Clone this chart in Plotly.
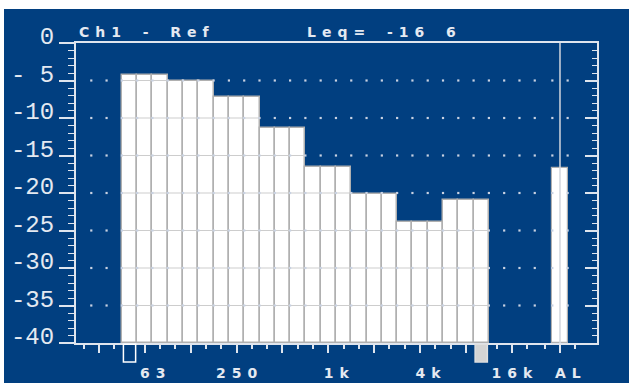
import plotly.graph_objects as go

# ---------------- data ----------------
band_names = ["25", "31.5", "40", "50", "63", "80", "100", "125", "160", "200",
              "250", "315", "400", "500", "630", "800", "1k", "1.25k", "1.6k", "2k",
              "2.5k", "3.15k", "4k", "5k", "6.3k", "8k", "10k", "12.5k", "16k", "20k"]
bar_bands = ["50", "63", "80", "100", "125", "160", "200", "250", "315", "400",
             "500", "630", "800", "1k", "1.25k", "1.6k", "2k", "2.5k", "3.15k", "4k",
             "5k", "6.3k", "8k", "10k"]
bar_levels = [-4.2, -4.2, -4.2, -5.1, -5.1, -5.1, -7.2, -7.2, -7.2, -11.3,
              -11.3, -11.3, -16.5, -16.5, -16.5, -20.1, -20.1, -20.1, -23.8, -23.8,
              -23.8, -20.9, -20.9, -20.9]
al_level = -16.6
octave_bands = ["31.5", "63", "125", "250", "500", "1k", "2k", "4k", "8k", "16k"]
x_tick_bands = ["63", "250", "1k", "4k", "16k"]
x_tick_text = ["63", "250", "1k", "4k", "16k"]
al_text = "AL"
y_tick_vals = [0, -5, -10, -15, -20, -25, -30, -35, -40]
y_tick_text = ["0", "- 5", "-10", "-15", "-20", "-25", "-30", "-35", "-40"]
title_left = "Ch1 - Ref"
title_right = "Leq= -16 6"

# ---------------- styling ----------------
BLUE = "#013f80"
FG = "#e4e9f1"
LINE = "#dfe5ee"
SEP = "#b0b0b0"
FLOOR, TOP = -40, 0
AL_POS = 31.15
W, H = 633, 383
ML, MR, MT, MB = 76, 36, 43, 40
PW, PH = W - ML - MR, H - MT - MB
SMALL_FONT = dict(family="DejaVu Sans", size=14, color=FG, weight="bold")


def spaced(s, sep="\u2004\u200a"):
    # letter-spaced text; spaces become figure spaces
    return sep.join("\u2007" if c == " " else c for c in s)


def mono(s):
    return s.replace(" ", "\u00a0")


idx = {b: i for i, b in enumerate(band_names)}
bar_x = [idx[b] for b in bar_bands]

fig = go.Figure()

# dotted grid (dots on band boundaries)
bounds = [k - 0.5 for k in range(1, len(band_names) + 1)] + [AL_POS - 0.5, AL_POS + 0.5]
gx, gy = [], []
for lv in y_tick_vals[1:-1]:
    for b in bounds:
        gx.append(b)
        gy.append(lv)
fig.add_trace(go.Scatter(x=gx, y=gy, mode="markers", yaxis="y2",
                         marker=dict(symbol="square", size=2.2, color="#c9d2e2", line=dict(width=0)),
                         hoverinfo="skip", showlegend=False))

# bars
fig.add_trace(go.Bar(x=bar_x, y=[v - FLOOR for v in bar_levels], base=FLOOR, width=1,
                     marker=dict(color="white", line=dict(color=SEP, width=1.5)),
                     showlegend=False))
fig.add_trace(go.Bar(x=[AL_POS], y=[al_level - FLOOR], base=FLOOR, width=1,
                     marker=dict(color="white", line=dict(color=SEP, width=1.2)),
                     showlegend=False))

# faint grey grid lines crossing the bars
lx, ly = [], []
for lv in y_tick_vals[1:-1]:
    for xi, v in zip(bar_x, bar_levels):
        if v > lv:
            lx += [xi - 0.5, xi + 0.5, None]
            ly += [lv, lv, None]
fig.add_trace(go.Scatter(x=lx, y=ly, mode="lines", line=dict(color="#cdcdcd", width=1),
                         hoverinfo="skip", showlegend=False))

shapes = [
    # blue panel
    dict(type="rect", xref="paper", yref="paper", layer="below",
         x0=(4 - ML) / PW, x1=(629 - ML) / PW, y0=(PH + MT - H - 2) / PH, y1=(PH + MT - 9) / PH,
         fillcolor=BLUE, line=dict(width=0)),
    # AL separator
    dict(type="line", xref="x", yref="y", x0=AL_POS, x1=AL_POS, y0=FLOOR, y1=TOP,
         line=dict(color="#d2d6dd", width=1.5), layer="above"),
    # cursor markers below first/last bar
    dict(type="rect", xref="x", yref="y domain", x0=bar_x[0] - 0.4, x1=bar_x[0] + 0.4,
         y0=-0.063, y1=-0.004, line=dict(color="white", width=1.5), fillcolor=BLUE),
    dict(type="rect", xref="x", yref="y domain", x0=bar_x[-1] - 0.4, x1=bar_x[-1] + 0.4,
         y0=-0.063, y1=-0.004, line=dict(color="#e0e0e0", width=1.5), fillcolor="#d4d4d4"),
]


def xlabel(b):
    if b not in x_tick_bands:
        return ""
    t = x_tick_text[x_tick_bands.index(b)]
    return spaced(t.rjust(3))


major_x = [idx[b] for b in octave_bands] + [AL_POS]
major_text = [xlabel(b) for b in octave_bands] + [spaced(al_text.rjust(3))]
minor_x = [i for i in range(len(band_names)) if i not in major_x] + [AL_POS - 1, AL_POS + 1]

fig.update_layout(
    width=W, height=H,
    margin=dict(l=ML, r=MR, t=MT, b=MB, autoexpand=False),
    paper_bgcolor="white", plot_bgcolor=BLUE,
    barmode="overlay", bargap=0,
    shapes=shapes,
    xaxis=dict(range=[-0.5, 33.57], showgrid=False, zeroline=False,
               showline=True, linecolor=LINE, linewidth=2, mirror=True,
               tickmode="array", tickvals=major_x, ticktext=major_text,
               ticks="outside", ticklen=8, tickwidth=1.5, tickcolor=LINE,
               ticklabelstandoff=8,
               tickfont=SMALL_FONT,
               minor=dict(tickmode="array", tickvals=minor_x, ticks="outside", ticklen=4,
                          tickwidth=1.5, tickcolor=LINE, showgrid=False)),
    yaxis=dict(range=[FLOOR, TOP], showgrid=False, zeroline=False,
               showline=True, linecolor=LINE, linewidth=2,
               tickmode="array", tickvals=y_tick_vals, ticktext=[mono(t) for t in y_tick_text],
               ticks="outside", ticklen=15, tickwidth=1.5, tickcolor=LINE,
               ticklabelshift=-7,
               tickfont=dict(family="Liberation Mono", size=24, color=FG),
               minor=dict(dtick=1, ticks="outside", ticklen=6, tickwidth=1.2, tickcolor=LINE,
                          showgrid=False)),
    yaxis2=dict(range=[FLOOR, TOP], overlaying="y", side="right", showgrid=False, zeroline=False,
                showline=True, linecolor=LINE, linewidth=2,
                tickmode="array", tickvals=y_tick_vals, showticklabels=False,
                ticks="inside", ticklen=12, tickwidth=1.5, tickcolor=LINE,
                minor=dict(dtick=1, ticks="inside", ticklen=5, tickwidth=1.2, tickcolor=LINE,
                           showgrid=False)),
    annotations=[
        dict(text=spaced(title_left), xref="paper", yref="paper", x=(77 - ML) / PW, y=1,
             xanchor="left", yanchor="bottom", yshift=1, showarrow=False, font=SMALL_FONT),
        dict(text=spaced(title_right), xref="paper", yref="paper", x=(305 - ML) / PW, y=1,
             xanchor="left", yanchor="bottom", yshift=1, showarrow=False, font=SMALL_FONT),
    ],
)

fig.write_html("out.html", config={"displayModeBar": False},
               post_script="document.body.style.margin='0';")
